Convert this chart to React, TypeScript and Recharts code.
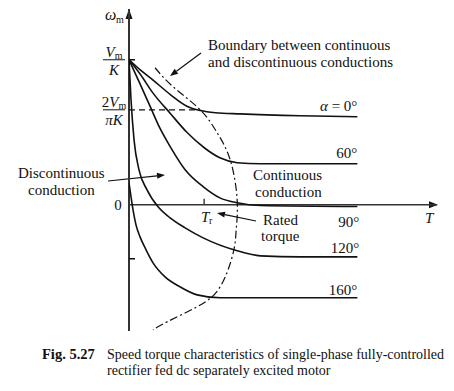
import React from 'react';
import { LineChart, Line, XAxis, YAxis, ReferenceLine, Customized } from 'recharts';

// ---- data (T in units of rated torque, ω in units of Vm/K) ----
const alpha0T = [0, 0.15, 0.32, 0.55, 0.77, 0.95, 1.15, 1.48, 2.28, 3.04];
const alpha0W = [1.0, 0.93, 0.86, 0.76, 0.68, 0.65, 0.635, 0.627, 0.614, 0.607];
const alpha60T = [0, 0.15, 0.32, 0.55, 0.77, 1.01, 1.21, 1.44, 1.75, 3.04];
const alpha60W = [1.0, 0.9, 0.77, 0.63, 0.5, 0.39, 0.324, 0.29, 0.283, 0.283];
const alpha90T = [0, 0.15, 0.28, 0.41, 0.55, 0.75, 0.99, 1.21, 1.44, 1.75, 3.04];
const alpha90W = [1.0, 0.83, 0.68, 0.53, 0.4, 0.24, 0.124, 0.048, 0.014, -0.005, -0.012];
const alpha120T = [0, 0.027, 0.067, 0.133, 0.24, 0.387, 0.547, 0.747, 0.987, 1.44, 1.75, 2.28, 3.04];
const alpha120W = [1.0, 0.724, 0.448, 0.241, 0.103, -0.014, -0.09, -0.159, -0.228, -0.317, -0.352, -0.359, -0.359];
const alpha160T = [0, 0.027, 0.053, 0.093, 0.147, 0.227, 0.32, 0.48, 0.68, 0.907, 1.213, 3.04];
const alpha160W = [0.152, 0.055, -0.034, -0.138, -0.221, -0.31, -0.4, -0.497, -0.566, -0.621, -0.641, -0.641];
const boundaryT = [0.347, 0.587, 0.947, 1.173, 1.347, 1.44, 1.427, 1.387, 1.213, 0.907, 0.507, 0.32];
const boundaryW = [0.945, 0.814, 0.655, 0.497, 0.31, 0.034, -0.172, -0.331, -0.566, -0.703, -0.807, -0.862];
const avgLevelT = [0, 0.95];
const avgLevelW = [0.655, 0.655];

const curveLabels = ['α = 0°', '60°', '90°', '120°', '160°'];
const yTicks = [1, 0.655, 0, -0.372];
const yTickPre = ['', '2', '0', ''];
const yTickVar = ['V', 'V', '', ''];
const yTickSub = ['m', 'm', '', ''];
const yTickDenPre = ['', 'π', '', ''];
const yTickDen = ['K', 'K', '', ''];
const xTickT = [1];

const zip = (t: number[], w: number[]) => t.map((v, i) => ({ t: v, w: w[i] }));

// ---- layout ----
const W = 454;
const H = 391;
const M = { top: 9, right: 17, bottom: 60, left: 0 };
const YW = 129;
const XD: [number, number] = [0, 4.1];
const YD: [number, number] = [-0.87, 1.35];
const PL = M.left + YW;
const PR = W - M.right;
const PT = M.top;
const PB = H - M.bottom;
const sx = (t: number) => PL + ((t - XD[0]) / (XD[1] - XD[0])) * (PR - PL);
const sy = (w: number) => PT + ((YD[1] - w) / (YD[1] - YD[0])) * (PB - PT);

const FONT = '"Liberation Serif", "Times New Roman", serif';
const INK = '#111';

const YTick = (props: any) => {
  const { y, payload, index } = props;
  const i = yTicks.indexOf(payload.value) >= 0 ? yTicks.indexOf(payload.value) : index;
  const cx = 114;
  if (yTickDen[i]) {
    return (
      <g fontFamily={FONT} fill={INK} fontSize={15}>
        <text x={cx} y={y - 3} textAnchor="middle">
          {yTickPre[i]}
          <tspan fontStyle="italic">{yTickVar[i]}</tspan>
          <tspan fontSize={10} dy={2}>{yTickSub[i]}</tspan>
        </text>
        <line x1={cx - 11} x2={cx + 11} y1={y} y2={y} stroke={INK} strokeWidth={1} />
        <text x={cx} y={y + 15} textAnchor="middle" fontStyle="italic">
          {yTickDenPre[i]}{yTickDen[i]}
        </text>
        {i === 0 && <line x1={PL} x2={PL + 6} y1={y} y2={y} stroke={INK} strokeWidth={1.5} />}
      </g>
    );
  }
  if (yTickPre[i]) {
    return (
      <text x={118} y={y + 5} textAnchor="middle" fontFamily={FONT} fontSize={15} fill={INK}>
        {yTickPre[i]}
      </text>
    );
  }
  return <line x1={PL} x2={PL + 6} y1={y} y2={y} stroke={INK} strokeWidth={1.5} />;
};

const Arrow = ({ x1, y1, x2, y2 }: { x1: number; y1: number; x2: number; y2: number }) => {
  const a = Math.atan2(y2 - y1, x2 - x1);
  const L = 8;
  const w = 3;
  const bx = x2 - L * Math.cos(a);
  const by = y2 - L * Math.sin(a);
  const px = -Math.sin(a) * w;
  const py = Math.cos(a) * w;
  return (
    <g>
      <line x1={x1} y1={y1} x2={bx} y2={by} stroke={INK} strokeWidth={1.2} />
      <polygon points={`${x2},${y2} ${bx + px},${by + py} ${bx - px},${by - py}`} fill={INK} />
    </g>
  );
};

const curveEnds = [
  { t: alpha0T[alpha0T.length - 1], w: alpha0W[alpha0W.length - 1], dx: 0, dy: -6 },
  { t: alpha60T[alpha60T.length - 1], w: alpha60W[alpha60W.length - 1], dx: 0, dy: -6 },
  { t: alpha90T[alpha90T.length - 1], w: alpha90W[alpha90W.length - 1], dx: 2, dy: 20 },
  { t: alpha120T[alpha120T.length - 1], w: alpha120W[alpha120W.length - 1], dx: 2, dy: -4 },
  { t: alpha160T[alpha160T.length - 1], w: alpha160W[alpha160W.length - 1], dx: 0, dy: -3 },
];

const Annotations = () => {
  const y0 = sy(0);
  return (
    <g fontFamily={FONT} fill={INK} fontSize={15}>
      {/* axis arrowheads */}
      <polygon points={`${PL},${PT} ${PL - 3.5},${PT + 10} ${PL + 3.5},${PT + 10}`} fill={INK} />
      <polygon points={`${PR + 1},${y0} ${PR - 8},${y0 - 3.5} ${PR - 8},${y0 + 3.5}`} fill={INK} />
      {/* axis titles */}
      <text x={105} y={20} fontStyle="italic" fontSize={16}>ω</text>
      <text x={116} y={23} fontSize={10}>m</text>
      <text x={425} y={223} fontStyle="italic">T</text>
      {/* rated torque tick */}
      {xTickT.map((t) => (
        <g key={t}>
          <line x1={sx(t)} x2={sx(t)} y1={y0 - 6} y2={y0} stroke={INK} strokeWidth={1.2} />
          <text x={sx(t) - 3} y={y0 + 17} fontStyle="italic">T</text>
          <text x={sx(t) + 5} y={y0 + 19} fontSize={10}>r</text>
        </g>
      ))}
      {/* curve labels */}
      {curveEnds.map((c, i) => (
        <text key={i} x={sx(c.t) + c.dx} y={sy(c.w) + c.dy} textAnchor="end">
          {i === 0 ? (
            <>
              <tspan fontStyle="italic">α</tspan>
              <tspan> = 0°</tspan>
            </>
          ) : (
            curveLabels[i]
          )}
        </text>
      ))}
      {/* region notes */}
      <text x={208} y={50}>Boundary between continuous</text>
      <text x={208} y={67}>and discontinuous conductions</text>
      <Arrow x1={201} y1={53} x2={170} y2={76} />
      <text x={18} y={178}>Discontinuous</text>
      <text x={28} y={195}>conduction</text>
      <Arrow x1={108} y1={181} x2={165} y2={175} />
      <text x={253} y={180}>Continuous</text>
      <text x={255} y={197}>conduction</text>
      <text x={263} y={225}>Rated</text>
      <text x={261} y={241}>torque</text>
      <Arrow x1={256} y1={221} x2={217} y2={213} />
      {/* caption */}
      <text x={42} y={359} fontWeight="bold" fontSize={14.5}>Fig. 5.27</text>
      <text x={107} y={359} fontSize={14}>Speed torque characteristics of single-phase fully-controlled</text>
      <text x={107} y={375} fontSize={14}>rectifier fed dc separately excited motor</text>
    </g>
  );
};

const lineProps = {
  dataKey: 'w',
  stroke: INK,
  dot: false,
  activeDot: false,
  isAnimationActive: false,
} as const;

export default function App() {
  return (
    <div style={{ position: 'absolute', left: 0, top: 0, width: W, height: H, background: '#fff' }}>
      <LineChart width={W} height={H} margin={M}>
        <XAxis type="number" dataKey="t" domain={XD} hide allowDataOverflow />
        <YAxis
          type="number"
          dataKey="w"
          domain={YD}
          width={YW}
          ticks={yTicks}
          interval={0}
          axisLine={false}
          tickLine={false}
          tick={(p: any) => <YTick {...p} />}
          allowDataOverflow
        />
        <ReferenceLine x={0} stroke="#333" strokeWidth={2} />
        <ReferenceLine y={0} stroke="#333" strokeWidth={1.6} />
        <Line {...lineProps} data={zip(avgLevelT, avgLevelW)} type="linear" strokeWidth={1.2} strokeDasharray="6 4" />
        <Line {...lineProps} data={zip(boundaryT, boundaryW)} type="natural" strokeWidth={1.2} strokeDasharray="8 3 2 3" />
        <Line {...lineProps} data={zip(alpha0T, alpha0W)} type="monotone" strokeWidth={1.6} />
        <Line {...lineProps} data={zip(alpha60T, alpha60W)} type="monotone" strokeWidth={1.6} />
        <Line {...lineProps} data={zip(alpha90T, alpha90W)} type="monotone" strokeWidth={1.6} />
        <Line {...lineProps} data={zip(alpha120T, alpha120W)} type="monotone" strokeWidth={1.6} />
        <Line {...lineProps} data={zip(alpha160T, alpha160W)} type="monotone" strokeWidth={1.6} />
        <Customized component={Annotations} />
      </LineChart>
    </div>
  );
}
